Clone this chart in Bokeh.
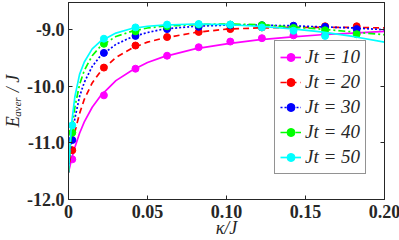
from bokeh.plotting import figure
from bokeh.models import (Range1d, LinearAxis, FixedTicker, Legend, LegendItem)
from bokeh.embed import file_html
from bokeh.resources import INLINE

# ---- data ----
kappa_pts = [0.0024, 0.0224, 0.0424, 0.0624, 0.0824, 0.1024, 0.1224, 0.1424, 0.1624, 0.1824]
pts_jt10 = [-11.29, -10.16, -9.69, -9.46, -9.31, -9.21, -9.15, -9.10, -9.07, -9.05]
pts_jt20 = [-11.13, -9.67, -9.28, -9.13, -9.04, -8.99, -8.96, -8.95, -8.94, -8.94]
pts_jt30 = [-10.95, -9.41, -9.11, -8.99, -8.95, -8.92, -8.92, -8.93, -8.95, -8.99]
pts_jt40 = [-10.82, -9.25, -9.03, -8.94, -8.91, -8.91, -8.92, -8.97, -9.01, -9.08]
pts_jt50 = [-10.69, -9.16, -8.96, -8.91, -8.90, -8.91, -8.96, -9.02, -9.11, -9.25]

kappa_fit = [0, 0.001, 0.002, 0.004, 0.007, 0.01, 0.015, 0.02, 0.03, 0.04, 0.05,
             0.06, 0.08, 0.1, 0.12, 0.14, 0.16, 0.18, 0.2]
fit_jt10 = [-11.52, -11.40, -11.28, -11.08, -10.83, -10.63, -10.37, -10.18, -9.90, -9.72,
            -9.58, -9.48, -9.34, -9.25, -9.18, -9.13, -9.09, -9.06, -9.03]
fit_jt20 = [-11.52, -11.30, -11.12, -10.81, -10.48, -10.23, -9.94, -9.75, -9.49, -9.33,
            -9.22, -9.15, -9.05, -8.99, -8.97, -8.96, -8.96, -8.96, -8.97]
fit_jt30 = [-11.52, -11.20, -10.95, -10.57, -10.18, -9.93, -9.65, -9.47, -9.26, -9.13,
            -9.05, -8.99, -8.94, -8.92, -8.92, -8.93, -8.95, -8.97, -9.00]
fit_jt40 = [-11.52, -11.11, -10.80, -10.37, -9.97, -9.72, -9.46, -9.30, -9.12, -9.03,
            -8.97, -8.94, -8.91, -8.90, -8.91, -8.95, -8.99, -9.04, -9.09]
fit_jt50 = [-11.52, -11.00, -10.65, -10.19, -9.79, -9.57, -9.34, -9.21, -9.06, -8.98,
            -8.94, -8.92, -8.90, -8.91, -8.94, -8.98, -9.04, -9.12, -9.22]

series_labels = ["Jt = 10", "Jt = 20", "Jt = 30", "Jt = 40", "Jt = 50"]
x_ticks = [0, 0.05, 0.10, 0.15, 0.20]
x_tick_labels = ["0", "0.05", "0.10", "0.15", "0.20"]
y_ticks = [-12, -11, -10, -9]
y_tick_labels = ["-12.0", "-11.0", "-10.0", "-9.0"]

# ---- styles ----
colors = ["#FF00FF", "#FF0000", "#0000FF", "#00FF00", "#00FFFF"]
dashes = ["solid", "6 4", "2 2", "7 3 2 3", "solid"]
AX = "#262626"
SERIF = "'Liberation Serif', 'Times New Roman', serif"

p = figure(frame_width=316, frame_height=197, output_backend="svg", toolbar_location=None,
           x_range=Range1d(0, 0.2), y_range=Range1d(-12, -8.52),
           min_border_left=67, min_border_right=16, min_border_top=2,
           min_border_bottom=38)
p.xgrid.visible = False
p.ygrid.visible = False
p.outline_line_color = AX
p.background_fill_color = "white"

fits = [fit_jt10, fit_jt20, fit_jt30, fit_jt40, fit_jt50]
pts = [pts_jt10, pts_jt20, pts_jt30, pts_jt40, pts_jt50]
items = []
for lab, c, d, fy, py in zip(series_labels, colors, dashes, fits, pts):
    lr = p.line(kappa_fit, fy, line_color=c, line_width=1.7, line_dash=d)
    sr = p.scatter(kappa_pts, py, size=7, fill_color=c, line_color=c, marker="circle")
    items.append(LegendItem(label=lab, renderers=[lr, sr]))

def style_axis(ax, show_labels):
    ax.axis_line_color = AX
    ax.major_tick_line_color = AX
    ax.major_tick_in = 4
    ax.major_tick_out = 0
    ax.minor_tick_line_color = None
    ax.major_label_text_font = SERIF
    ax.major_label_text_font_style = "bold"
    if show_labels:
        ax.major_label_text_color = AX
        ax.major_label_text_font_size = "18px"
        ax.major_label_standoff = 4
    else:
        ax.major_label_text_color = None
        ax.major_label_text_font_size = "1px"
        ax.major_label_standoff = 0

p.xaxis.ticker = FixedTicker(ticks=x_ticks)
p.yaxis.ticker = FixedTicker(ticks=y_ticks)
p.xaxis.major_label_overrides = dict(zip(x_ticks, x_tick_labels))
p.yaxis.major_label_overrides = dict(zip(y_ticks, y_tick_labels))
style_axis(p.xaxis[0], True)
style_axis(p.yaxis[0], True)
p.xaxis.major_label_standoff = 5

p.xaxis.axis_label = "κ/J"
p.yaxis.axis_label = "Eₐᵥₑᵣ / J"
for ax in (p.xaxis[0], p.yaxis[0]):
    ax.axis_label_text_font = SERIF
    ax.axis_label_text_font_style = "italic"
    ax.axis_label_text_font_size = "18px"
    ax.axis_label_text_color = AX
p.xaxis.axis_label_standoff = -3
p.yaxis.axis_label_standoff = 1

top = LinearAxis(ticker=FixedTicker(ticks=x_ticks))
right = LinearAxis(ticker=FixedTicker(ticks=y_ticks))
style_axis(top, False)
style_axis(right, False)
p.add_layout(top, "above")
p.add_layout(right, "right")

legend = Legend(items=items, location=(206, 25))
legend.label_text_font = SERIF
legend.label_text_font_style = "italic"
legend.label_text_font_size = "19px"
legend.label_text_color = AX
legend.glyph_width = 21
legend.glyph_height = 20
legend.label_height = 20
legend.spacing = 3
legend.padding = 5
legend.margin = 0
legend.label_standoff = 4
legend.border_line_color = AX
legend.border_line_width = 1
legend.background_fill_color = "white"
legend.background_fill_alpha = 1
p.add_layout(legend, "center")

open("out.html", "w").write(file_html(p, INLINE))
